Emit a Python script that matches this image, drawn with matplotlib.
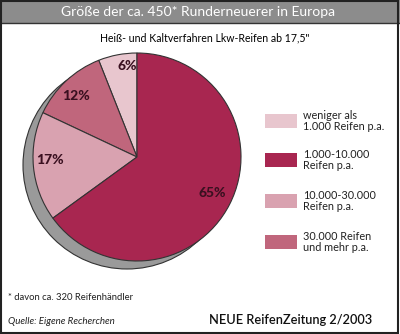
import numpy as np
import matplotlib.pyplot as plt
from matplotlib.patches import Circle, Rectangle

# Daten
anteile = [6, 12, 17, 65]
etiketten = ['6%', '12%', '17%', '65%']
farben = ['#e8c6ce', '#c0667c', '#d9a2b0', '#a82650']
legende = ['weniger als\n1.000 Reifen p.a.', '1.000-10.000\nReifen p.a.',
           '10.000-30.000\nReifen p.a.', '30.000 Reifen\nund mehr p.a.']
legende_farben = ['#e8c6ce', '#a82650', '#d9a2b0', '#c0667c']

# Lage der Prozentangaben (Winkel in Grad, Abstand relativ zum Radius)
label_pos = [(96, 0.88), (135, 0.83), (182, 0.84), (334, 0.80)]

plt.rcParams['font.family'] = ['Lato', 'DejaVu Sans']

W, H = 400, 334
cx, cy, r = 137, H - 157, 104
fig = plt.figure(figsize=(W / 100, H / 100), dpi=100)
ax = fig.add_axes([0, 0, 1, 1])

# Schatten
ax.add_patch(Circle((cx - 10, cy - 8), r, facecolor='#9a9a9a', edgecolor='#333333', lw=0.8, zorder=1))

wedges, _ = ax.pie(anteile, colors=farben, startangle=90, counterclock=True,
                   center=(cx, cy), radius=r,
                   wedgeprops=dict(edgecolor='#333333', linewidth=0.8))
for w in wedges:
    w.set_zorder(2)

for lab, (ang, d) in zip(etiketten, label_pos):
    a = np.deg2rad(ang)
    ax.text(cx + d * r * np.cos(a), cy + d * r * np.sin(a), lab, ha='center', va='center',
            fontsize=10, fontweight='black', color='#3a1020', zorder=3)

ax.set_xlim(0, W)
ax.set_ylim(0, H)
ax.set_aspect('auto')
ax.axis('off')

# Titelleiste
ax.add_patch(Rectangle((0, H - 23), W, 23, facecolor='#8c8c8c', edgecolor='none', zorder=4))
ax.plot([0, W], [H - 23, H - 23], color='#333333', lw=1, zorder=5)
ax.text(198, H - 12, 'Größe der ca. 450* Runderneuerer in Europa', ha='center', va='center',
        color='white', fontsize=10, zorder=6)
ax.text(205, H - 38, 'Heiß- und Kaltverfahren Lkw-Reifen ab 17,5"', ha='center', va='center',
        fontsize=7.6, color='#000000')

# Legende
ys = [121, 160, 201, 242]
for y, lab, c in zip(ys, legende, legende_farben):
    ax.add_patch(Rectangle((265, H - y - 7), 32, 14, facecolor=c, edgecolor='none'))
    ax.text(303, H - y, lab, ha='left', va='center', fontsize=7.8, color='#222222', linespacing=1.0)

# Fußzeile
ax.text(8, H - 297, '* davon ca. 320 Reifenhändler', ha='left', va='center', fontsize=6.8, color='#222222')
ax.text(8, H - 322, 'Quelle: Eigene Recherchen', ha='left', va='center', fontsize=7,
        style='italic', color='#222222')
ax.text(372, H - 320, 'NEUE ReifenZeitung 2/2003', ha='right', va='center', fontsize=9.2,
        fontweight='semibold', color='#111111')

# Rahmen
ax.add_patch(Rectangle((1, 1), W - 3, H - 2, facecolor='none', edgecolor='#222222', lw=1.5, zorder=7))

fig.savefig('out.png', dpi=100)
